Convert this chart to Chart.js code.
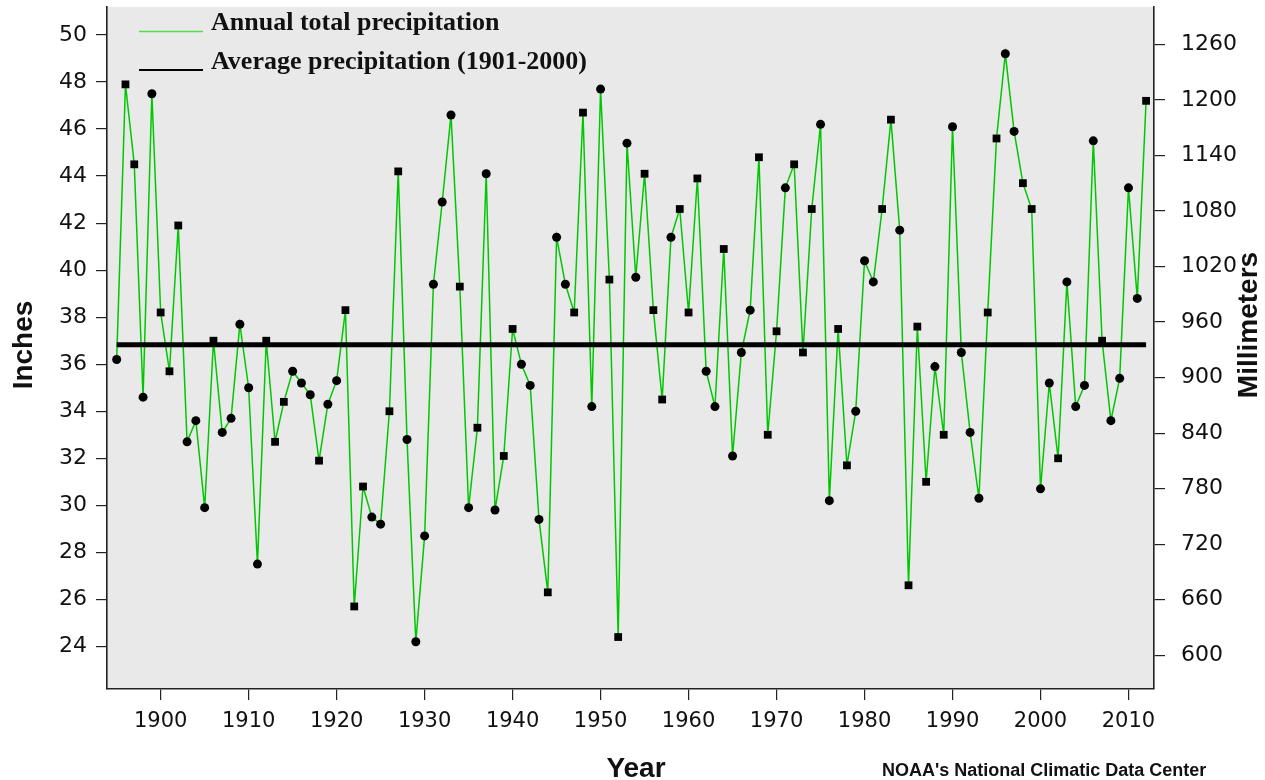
<!DOCTYPE html>
<html>
<head>
<meta charset="utf-8">
<script src="https://cdn.jsdelivr.net/npm/chart.js@4/dist/chart.umd.min.js"></script>
<style>
  html, body { margin: 0; padding: 0; background: #fff; }
  canvas { display: block; }
</style>
</head>
<body>
<canvas id="chart" width="1265" height="780"></canvas>
<script>
// annual totals, inches
const years = [
  1895, 1896, 1897, 1898, 1899, 1900, 1901, 1902, 1903, 1904, 1905, 1906, 1907, 1908, 1909,
  1910, 1911, 1912, 1913, 1914, 1915, 1916, 1917, 1918, 1919, 1920, 1921, 1922, 1923, 1924,
  1925, 1926, 1927, 1928, 1929, 1930, 1931, 1932, 1933, 1934, 1935, 1936, 1937, 1938, 1939,
  1940, 1941, 1942, 1943, 1944, 1945, 1946, 1947, 1948, 1949, 1950, 1951, 1952, 1953, 1954,
  1955, 1956, 1957, 1958, 1959, 1960, 1961, 1962, 1963, 1964, 1965, 1966, 1967, 1968, 1969,
  1970, 1971, 1972, 1973, 1974, 1975, 1976, 1977, 1978, 1979, 1980, 1981, 1982, 1983, 1984,
  1985, 1986, 1987, 1988, 1989, 1990, 1991, 1992, 1993, 1994, 1995, 1996, 1997, 1998, 1999,
  2000, 2001, 2002, 2003, 2004, 2005, 2006, 2007, 2008, 2009, 2010, 2011, 2012
];
const precipInches = [
  36.2, 47.9, 44.5, 34.6, 47.5, 38.2, 35.7, 41.9, 32.7, 33.6, 29.9, 37.0, 33.1, 33.7, 37.7,
  35.0, 27.5, 37.0, 32.7, 34.4, 35.7, 35.2, 34.7, 31.9, 34.3, 35.3, 38.3, 25.7, 30.8, 29.5,
  29.2, 34.0, 44.2, 32.8, 24.2, 28.7, 39.4, 42.9, 46.6, 39.3, 29.9, 33.3, 44.1, 29.8, 32.1,
  37.5, 36.0, 35.1, 29.4, 26.3, 41.4, 39.4, 38.2, 46.7, 34.2, 47.7, 39.6, 24.4, 45.4, 39.7,
  44.1, 38.3, 34.5, 41.4, 42.6, 38.2, 43.9, 35.7, 34.2, 40.9, 32.1, 36.5, 38.3, 44.8, 33.0,
  37.4, 43.5, 44.5, 36.5, 42.6, 46.2, 30.2, 37.5, 31.7, 34.0, 40.4, 39.5, 42.6, 46.4, 41.7,
  26.6, 37.6, 31.0, 35.9, 33.0, 46.1, 36.5, 33.1, 30.3, 38.2, 45.6, 49.2, 45.9, 43.7, 42.6,
  30.7, 35.2, 32.0, 39.5, 34.2, 35.1, 45.5, 37.0, 33.6, 35.4, 43.5, 38.8, 47.2
];
const averageInches = 36.83; // 1901-2000

// years drawn with a square marker (the rest are round)
const squareYears = [
  1896, 1897, 1900, 1901, 1902, 1906, 1912, 1913, 1914, 1918, 1921, 1922, 1923, 1926, 1927,
  1934, 1936, 1939, 1940, 1944, 1947, 1948, 1951, 1952, 1955, 1956, 1957, 1959, 1960, 1961,
  1964, 1968, 1969, 1970, 1972, 1973, 1974, 1977, 1978, 1982, 1983, 1985, 1986, 1987, 1989,
  1994, 1995, 1998, 1999, 2002, 2007, 2012
];

const xTicks = [1900, 1910, 1920, 1930, 1940, 1950, 1960, 1970, 1980, 1990, 2000, 2010];
const inchTicks = [24, 26, 28, 30, 32, 34, 36, 38, 40, 42, 44, 46, 48, 50];
const mmTicks = [600, 660, 720, 780, 840, 900, 960, 1020, 1080, 1140, 1200, 1260];

const MM_PER_INCH = 25.4;
const yMin = 22.19, yMax = 51.19;
const xMin = 1893.9, xMax = 2012.9;

const points = years.map((yr, i) => ({ x: yr, y: precipInches[i] }));
const shapes = years.map(yr => squareYears.includes(yr) ? 'rect' : 'circle');
const radii = years.map(yr => squareYears.includes(yr) ? 5.5 : 4.5);

Chart.defaults.font.family = '"DejaVu Sans", sans-serif';
Chart.defaults.color = '#111';

const AXIS = '#222';

const plotBg = {
  id: 'plotBg',
  beforeDraw(chart) {
    const { ctx, chartArea: a } = chart;
    ctx.save();
    ctx.fillStyle = '#e9e9e9';
    ctx.fillRect(a.left, a.top, a.right - a.left, a.bottom - a.top);
    ctx.restore();
  }
};

const textBits = {
  id: 'textBits',
  afterDraw(chart) {
    const ctx = chart.ctx;
    ctx.save();
    ctx.fillStyle = '#111';

    // axis titles
    ctx.font = 'bold 28px "Liberation Sans", Arial, sans-serif';
    ctx.textAlign = 'center';
    ctx.textBaseline = 'middle';
    ctx.save();
    ctx.translate(24, 345);
    ctx.rotate(-Math.PI / 2);
    ctx.fillText('Inches', 0, 0);
    ctx.restore();
    ctx.save();
    ctx.translate(1249, 325);
    ctx.rotate(-Math.PI / 2);
    ctx.fillText('Millimeters', 0, 0);
    ctx.restore();

    ctx.textBaseline = 'alphabetic';
    ctx.fillText('Year', 636, 777);

    ctx.font = 'bold 18px "Liberation Sans", Arial, sans-serif';
    ctx.textAlign = 'left';
    ctx.fillText("NOAA's National Climatic Data Center", 882, 776);

    // legend
    ctx.font = 'bold 26px "Liberation Serif", "Times New Roman", serif';
    ctx.strokeStyle = '#55dd55';
    ctx.lineWidth = 1.6;
    ctx.beginPath();
    ctx.moveTo(139, 31.5);
    ctx.lineTo(203, 31.5);
    ctx.stroke();
    ctx.fillText('Annual total precipitation', 211, 30);

    ctx.strokeStyle = '#000';
    ctx.lineWidth = 2;
    ctx.beginPath();
    ctx.moveTo(139, 70);
    ctx.lineTo(203, 70);
    ctx.stroke();
    ctx.fillText('Average precipitation (1901-2000)', 211, 69);

    ctx.restore();
  }
};

const tickGrid = { drawOnChartArea: false, drawTicks: true, tickLength: 11, color: AXIS, lineWidth: 1.2 };
const axisBorder = { display: true, color: AXIS, width: 1.6 };

// fixed axis boxes so the plot area lands where the original has it
function fixWidth(w) {
  return s => { s.width = w; s.paddingTop = 0; s.paddingBottom = 0; };
}

new Chart(document.getElementById('chart'), {
  type: 'line',
  data: {
    datasets: [
      {
        label: 'Annual total precipitation',
        data: points,
        borderColor: '#00c800',
        borderWidth: 1.5,
        tension: 0,
        pointRadius: 0,
        order: 3
      },
      {
        label: 'Average precipitation (1901-2000)',
        data: [{ x: years[0], y: averageInches }, { x: years[years.length - 1], y: averageInches }],
        borderColor: '#000',
        borderWidth: 5,
        borderCapStyle: 'butt',
        pointRadius: 0,
        order: 2
      },
      {
        label: 'markers',
        data: points,
        showLine: false,
        pointStyle: shapes,
        pointRadius: radii,
        pointBackgroundColor: '#000',
        pointBorderColor: '#000',
        pointBorderWidth: 0,
        order: 1
      }
    ]
  },
  options: {
    responsive: false,
    animation: false,
    events: [],
    layout: { autoPadding: false, padding: { top: 7, left: 0, right: 0, bottom: 0 } },
    plugins: {
      legend: { display: false },
      tooltip: { enabled: false }
    },
    scales: {
      x: {
        type: 'linear',
        min: xMin,
        max: xMax,
        grid: tickGrid,
        border: axisBorder,
        afterBuildTicks: s => { s.ticks = xTicks.map(v => ({ value: v })); },
        afterFit: s => { s.height = 91; s.paddingLeft = 0; s.paddingRight = 0; },
        ticks: {
          font: { size: 21 },
          color: '#111',
          padding: 9,
          maxRotation: 0,
          autoSkip: false,
          callback: v => String(v)
        }
      },
      y: {
        type: 'linear',
        position: 'left',
        min: yMin,
        max: yMax,
        grid: tickGrid,
        border: axisBorder,
        afterBuildTicks: s => { s.ticks = inchTicks.map(v => ({ value: v })); },
        afterFit: fixWidth(107),
        ticks: {
          font: { size: 22 },
          color: '#111',
          padding: 9,
          autoSkip: false,
          callback: v => String(v)
        }
      },
      yMm: {
        type: 'linear',
        position: 'right',
        min: yMin * MM_PER_INCH,
        max: yMax * MM_PER_INCH,
        grid: tickGrid,
        border: axisBorder,
        afterBuildTicks: s => { s.ticks = mmTicks.map(v => ({ value: v })); },
        afterFit: fixWidth(111),
        ticks: {
          font: { size: 22 },
          color: '#111',
          padding: 16,
          autoSkip: false,
          callback: v => String(v)
        }
      }
    }
  },
  plugins: [plotBg, textBits]
});
</script>
</body>
</html>
